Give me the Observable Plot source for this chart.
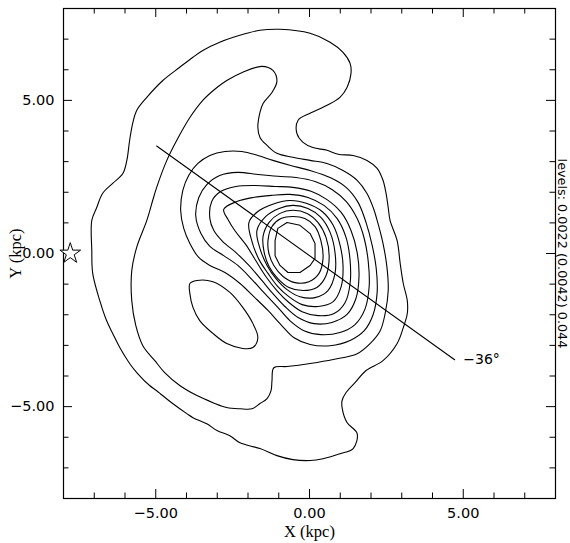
<!DOCTYPE html>
<html>
<head>
<meta charset="utf-8">
<script src="https://cdn.jsdelivr.net/npm/d3@7"></script>
<script src="https://cdn.jsdelivr.net/npm/@observablehq/plot@0.6"></script>
<style>
  html, body { margin: 0; padding: 0; background: #fff; }
</style>
</head>
<body>
<div id="chart"></div>
<script>
// ---- data (kpc) ----
const contour1 = [[-0.96,7.32],[0.02,7.19],[0.67,6.90],[1.09,6.57],[1.32,6.21],[1.35,5.88],[1.22,5.42],[0.99,5.10],[0.57,4.84],[0.02,4.58],[-0.37,4.35],[-0.41,3.92],[-0.21,3.63],[0.11,3.46],[0.57,3.37],[0.93,3.24],[1.42,3.20],[1.87,3.04],[2.20,2.78],[2.39,2.39],[2.49,1.96],[2.56,1.50],[2.62,1.08],[2.85,0.42],[2.95,-0.33],[3.05,-0.98],[3.18,-1.54],[3.18,-1.96],[3.05,-2.42],[2.85,-2.94],[2.39,-3.50],[1.84,-3.82],[1.48,-4.22],[1.19,-4.54],[1.06,-4.80],[1.06,-5.03],[1.22,-5.52],[1.55,-5.88],[1.42,-6.37],[0.99,-6.54],[0.44,-6.70],[0.02,-6.76],[-0.54,-6.73],[-1.06,-6.60],[-1.61,-6.37],[-2.26,-6.18],[-2.59,-5.95],[-3.01,-5.78],[-3.34,-5.56],[-3.79,-5.36],[-3.99,-5.23],[-4.45,-4.90],[-4.97,-4.48],[-5.20,-4.31],[-5.59,-3.92],[-5.85,-3.59],[-6.17,-3.07],[-6.40,-2.61],[-6.60,-2.19],[-6.82,-1.54],[-7.05,-0.65],[-7.08,0.10],[-7.08,1.08],[-6.92,1.50],[-6.73,1.96],[-6.40,2.29],[-6.07,2.61],[-5.94,3.04],[-5.85,3.69],[-5.75,4.25],[-5.62,4.67],[-5.29,5.10],[-4.77,5.65],[-4.22,6.08],[-3.79,6.41],[-3.47,6.63],[-2.92,6.90],[-2.04,7.19],[-1.61,7.29]];
const contour2 = [[-1.55,6.11],[-1.19,5.98],[-1.06,5.62],[-1.22,5.26],[-1.51,4.90],[-1.61,4.61],[-1.68,4.12],[-1.61,3.79],[-1.38,3.53],[-1.06,3.27],[-0.54,3.14],[0.02,3.04],[0.57,2.94],[1.09,2.71],[1.55,2.39],[1.87,1.96],[2.07,1.50],[2.20,1.08],[2.39,0.33],[2.52,-0.46],[2.56,-1.21],[2.46,-1.96],[2.30,-2.52],[1.97,-2.94],[1.55,-3.27],[0.77,-3.46],[0.02,-3.59],[-0.73,-3.69],[-1.16,-3.73],[-1.22,-4.15],[-1.25,-4.48],[-1.38,-4.74],[-1.61,-4.90],[-1.87,-5.07],[-2.26,-5.07],[-2.69,-5.03],[-3.14,-4.87],[-3.66,-4.64],[-4.22,-4.31],[-4.71,-3.89],[-5.03,-3.50],[-5.42,-3.01],[-5.65,-2.35],[-5.78,-1.54],[-5.78,-0.56],[-5.62,0.20],[-5.29,1.08],[-5.10,1.73],[-4.97,2.16],[-4.64,3.04],[-4.32,3.69],[-3.89,4.44],[-3.47,5.00],[-3.01,5.42],[-2.69,5.65],[-2.17,5.92]];
const contour3 = [[-4.19,1.41],[-4.12,2.06],[-3.93,2.55],[-3.63,2.94],[-3.24,3.20],[-2.75,3.33],[-2.20,3.33],[-1.68,3.20],[-1.19,3.04],[-0.64,2.88],[0.02,2.71],[0.67,2.48],[1.19,2.16],[1.58,1.67],[1.84,1.01],[2.04,0.26],[2.17,-0.49],[2.20,-1.27],[2.07,-1.99],[1.78,-2.52],[1.32,-2.84],[0.67,-3.01],[0.02,-2.97],[-0.50,-2.75],[-0.93,-2.32],[-1.35,-1.86],[-1.81,-1.41],[-2.26,-0.98],[-2.75,-0.62],[-3.24,-0.39],[-3.60,-0.13],[-3.89,0.33],[-4.09,0.82]];
const contour4 = [[-3.70,1.24],[-3.60,1.83],[-3.34,2.25],[-2.92,2.55],[-2.33,2.65],[-1.68,2.58],[-1.03,2.52],[-0.44,2.48],[0.18,2.35],[0.73,2.09],[1.19,1.70],[1.55,1.14],[1.78,0.49],[1.91,-0.26],[1.94,-1.08],[1.81,-1.80],[1.48,-2.32],[0.99,-2.58],[0.37,-2.65],[-0.18,-2.52],[-0.64,-2.19],[-1.03,-1.76],[-1.45,-1.31],[-1.87,-0.85],[-2.33,-0.39],[-2.79,-0.07],[-3.24,0.23],[-3.53,0.65]];
const contour5 = [[-3.24,1.14],[-3.18,1.70],[-2.88,2.03],[-2.39,2.19],[-1.78,2.22],[-1.12,2.19],[-0.54,2.16],[0.05,2.03],[0.57,1.76],[1.03,1.34],[1.35,0.75],[1.55,0.03],[1.61,-0.75],[1.51,-1.47],[1.22,-1.99],[0.73,-2.25],[0.15,-2.29],[-0.37,-2.09],[-0.80,-1.73],[-1.19,-1.31],[-1.55,-0.88],[-1.97,-0.39],[-2.39,0.03],[-2.82,0.39],[-3.11,0.75]];
const contour6 = [[-2.79,1.44],[-2.36,1.70],[-1.84,1.83],[-1.22,1.90],[-0.64,1.93],[-0.05,1.83],[0.47,1.57],[0.90,1.14],[1.19,0.52],[1.32,-0.23],[1.32,-0.98],[1.16,-1.60],[0.80,-1.96],[0.28,-2.03],[-0.24,-1.90],[-0.67,-1.60],[-1.06,-1.21],[-1.42,-0.75],[-1.75,-0.23],[-2.07,0.29],[-2.43,0.75],[-2.65,1.11]];
const contour7 = [[-1.97,1.01],[-1.68,1.37],[-1.22,1.60],[-0.64,1.73],[-0.08,1.63],[0.41,1.37],[0.77,0.92],[0.99,0.29],[1.09,-0.39],[1.03,-1.08],[0.77,-1.57],[0.28,-1.73],[-0.24,-1.67],[-0.67,-1.41],[-1.03,-1.08],[-1.35,-0.65],[-1.64,-0.20],[-1.87,0.39]];
const contour8 = [[-1.71,0.75],[-1.42,1.21],[-0.99,1.47],[-0.54,1.57],[-0.05,1.47],[0.37,1.18],[0.67,0.69],[0.83,0.03],[0.83,-0.65],[0.60,-1.21],[0.18,-1.44],[-0.31,-1.41],[-0.73,-1.18],[-1.09,-0.82],[-1.38,-0.39],[-1.61,0.16]];
const contour9 = [[-1.51,0.56],[-1.32,1.01],[-0.96,1.31],[-0.54,1.41],[-0.08,1.31],[0.28,1.01],[0.54,0.52],[0.64,-0.10],[0.54,-0.72],[0.24,-1.11],[-0.21,-1.21],[-0.67,-1.11],[-1.03,-0.82],[-1.32,-0.42],[-1.48,0.07]];
const contour10 = [[-1.35,0.42],[-1.22,0.88],[-0.93,1.14],[-0.54,1.21],[-0.15,1.14],[0.18,0.88],[0.37,0.42],[0.44,-0.16],[0.31,-0.65],[-0.02,-0.92],[-0.47,-0.95],[-0.86,-0.75],[-1.16,-0.39],[-1.32,0.00]];
const contour11 = [[-0.73,1.01],[-0.31,0.92],[0.02,0.65],[0.18,0.33],[0.18,-0.16],[0.02,-0.39],[-0.31,-0.62],[-0.70,-0.62],[-0.96,-0.39],[-1.12,-0.07],[-1.12,0.42],[-1.03,0.82]];
const islandContour = [[-3.89,-0.98],[-3.66,-0.88],[-3.14,-0.92],[-2.59,-1.27],[-2.17,-1.76],[-1.84,-2.29],[-1.68,-2.75],[-1.84,-3.07],[-2.17,-3.10],[-2.69,-2.94],[-3.14,-2.61],[-3.57,-2.19],[-3.79,-1.76],[-3.89,-1.31]];

const barLineX = [-4.97, 4.72];
const barLineY = [3.51, -3.47];
const angleLabel = ["\u221236\u00b0"];
const angleLabelX = [5.0];
const angleLabelY = [-3.45];

const sunX = [-7.78];
const sunY = [0];

const majorTicks = [-5, 0, 5];
const minorTicks = [-7, -6, -4, -3, -2, -1, 1, 2, 3, 4, 6, 7];
const xTitle = ["X (kpc)"];
const yTitle = ["Y (kpc)"];
const levelsText = ["levels: 0.0022 (0.0042) 0.044"];

// ---- build tables ----
const smoothContours = [contour1, contour2, contour3, contour4, contour5, contour6, contour7, contour8, contour9, contour10, islandContour];
const smoothPts = [];
smoothContours.forEach((c, i) => c.forEach(([x, y]) => smoothPts.push({id: i, x, y})));
const innerPts = contour11.map(([x, y]) => ({x, y}));
const barLine = barLineX.map((x, i) => ({x, y: barLineY[i]}));

const W = 570, H = 543;
const mL = 63, mR = 15, mT = 8, mB = 45;
const plotW = W - mL - mR, plotH = H - mT - mB;
const majLen = 9, minLen = 5.5;
const fmt = d => (d < 0 ? "\u2212" : "") + Math.abs(d).toFixed(2);

const chart = Plot.plot({
  width: W,
  height: H,
  marginLeft: mL,
  marginRight: mR,
  marginTop: mT,
  marginBottom: mB,
  style: {fontFamily: "DejaVu Sans", fontSize: "14.5px", background: "white", color: "black"},
  x: {domain: [-8, 8]},
  y: {domain: [-8, 8]},
  marks: [
    Plot.frame({stroke: "black", strokeWidth: 1.2}),
    // inward ticks on all four sides
    Plot.tickX(majorTicks, {x: d => d, insetTop: plotH - majLen, stroke: "black"}),
    Plot.tickX(minorTicks, {x: d => d, insetTop: plotH - minLen, stroke: "black"}),
    Plot.tickX(majorTicks, {x: d => d, insetBottom: plotH - majLen, stroke: "black"}),
    Plot.tickX(minorTicks, {x: d => d, insetBottom: plotH - minLen, stroke: "black"}),
    Plot.tickY(majorTicks, {y: d => d, insetRight: plotW - majLen, stroke: "black"}),
    Plot.tickY(minorTicks, {y: d => d, insetRight: plotW - minLen, stroke: "black"}),
    Plot.tickY(majorTicks, {y: d => d, insetLeft: plotW - majLen, stroke: "black"}),
    Plot.tickY(minorTicks, {y: d => d, insetLeft: plotW - minLen, stroke: "black"}),
    Plot.axisX({ticks: majorTicks, tickSize: 0, tickPadding: 9, tickFormat: fmt, label: null}),
    Plot.axisY({ticks: majorTicks, tickSize: 0, tickPadding: 9, tickFormat: fmt, label: null}),
    // contours
    Plot.line(smoothPts, {x: "x", y: "y", z: "id", curve: "catmull-rom-closed", stroke: "black", strokeWidth: 1.1}),
    Plot.line(innerPts, {x: "x", y: "y", curve: "linear-closed", stroke: "black", strokeWidth: 1.1}),
    // bar axis line and label
    Plot.line(barLine, {x: "x", y: "y", stroke: "black", strokeWidth: 1.1}),
    Plot.text(angleLabel, {x: (d, i) => angleLabelX[i], y: (d, i) => angleLabelY[i], text: d => d, textAnchor: "start", fontSize: 14, fontFamily: "DejaVu Sans"}),
    // sun position
    Plot.dot(sunX.map((x, i) => ({x, y: sunY[i]})), {x: "x", y: "y", symbol: "star", r: 6.5, fill: "white", stroke: "black", strokeWidth: 1}),
    // titles
    Plot.text(xTitle, {frameAnchor: "bottom", dy: 38, textAnchor: "middle", text: d => d, fontFamily: "Liberation Serif", fontSize: 16.5}),
    Plot.text(yTitle, {frameAnchor: "left", dx: -48, rotate: -90, textAnchor: "middle", text: d => d, fontFamily: "Liberation Serif", fontSize: 16.5}),
    Plot.text(levelsText, {frameAnchor: "right", dx: 7, rotate: 90, textAnchor: "middle", text: d => d, fontFamily: "DejaVu Sans", fontSize: 12.8})
  ]
});
document.getElementById("chart").appendChild(chart);
</script>
</body>
</html>
